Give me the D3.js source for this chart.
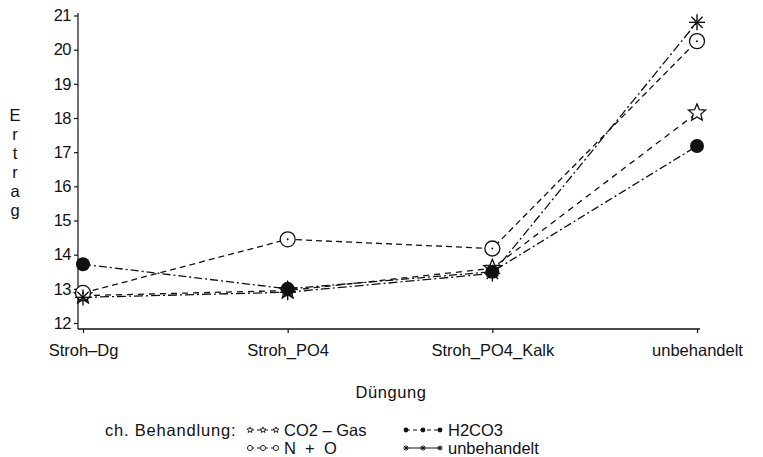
<!DOCTYPE html>
<html><head><meta charset="utf-8">
<script src="https://cdn.jsdelivr.net/npm/d3@7"></script>
<style>
html,body{margin:0;padding:0;background:#fff;}
svg{display:block;font-family:"Liberation Sans",Arial,Helvetica,sans-serif;}
</style></head>
<body>
<svg id="chart" width="763" height="457"></svg>
<script>
const categories = ["Stroh–Dg", "Stroh_PO4", "Stroh_PO4_Kalk", "unbehandelt"];
const yTicks = [12, 13, 14, 15, 16, 17, 18, 19, 20, 21];
const co2Gas = [12.80, 12.95, 13.60, 18.15];
const h2co3 = [13.72, 13.00, 13.50, 17.18];
const nPlusO = [12.88, 14.45, 14.18, 20.25];
const unbehandelt = [12.75, 12.90, 13.45, 20.80];
const seriesNames = ["CO2 – Gas", "H2CO3", "N  +  O", "unbehandelt"];

const series = [
  {name: seriesNames[0], values: co2Gas, marker: "star", dash: "6,5"},
  {name: seriesNames[1], values: h2co3, marker: "dot", dash: "8,3,2,3"},
  {name: seriesNames[2], values: nPlusO, marker: "circle", dash: "6,4"},
  {name: seriesNames[3], values: unbehandelt, marker: "asterisk", dash: "9,3,2,3"}
];

const svg = d3.select("#chart");
const x = d3.scalePoint().domain(categories).range([83, 697]);
const y = d3.scaleLinear().domain([12, 21]).range([323, 15.5]);
const ink = "#111";
const fs = 16.5;
const ff = "Liberation Sans, Arial, sans-serif";

// axes
const yAxis = svg.append("g").attr("transform", "translate(78,0)")
  .call(d3.axisLeft(y).tickValues(yTicks).tickSize(4).tickPadding(3).tickFormat(d3.format("d")));
yAxis.select(".domain").remove();
yAxis.append("line").attr("x1", 0).attr("x2", 0).attr("y1", 13).attr("y2", 329)
  .attr("stroke", ink).attr("stroke-width", 1.2);
yAxis.selectAll(".tick line").attr("stroke", ink).attr("stroke-width", 1.2);
yAxis.selectAll(".tick text").attr("font-size", fs).attr("fill", ink).attr("font-family", ff)
  .attr("letter-spacing", -0.5);

const xAxis = svg.append("g").attr("transform", "translate(0,329)")
  .call(d3.axisBottom(x).tickSize(4).tickPadding(11));
xAxis.select(".domain").remove();
xAxis.append("line").attr("x1", 78).attr("x2", 700).attr("y1", 0).attr("y2", 0)
  .attr("stroke", ink).attr("stroke-width", 1.3);
xAxis.selectAll(".tick line").attr("stroke", ink).attr("stroke-width", 1.2);
xAxis.selectAll(".tick text").attr("font-size", fs).attr("fill", ink).attr("font-family", ff);

// axis titles
svg.append("text").attr("x", 391).attr("y", 398).attr("text-anchor", "middle")
  .attr("font-size", fs).attr("fill", ink).attr("letter-spacing", 0.6).text("Düngung");
const yTitle = "Ertrag".split("");
svg.append("g").selectAll("text").data(yTitle).join("text")
  .attr("x", 15).attr("y", (d, i) => 121 + i * 19)
  .attr("text-anchor", "middle").attr("font-size", fs).attr("fill", ink).text(d => d);

// marker drawing
function starPath(r) {
  const pts = [];
  for (let i = 0; i < 10; i++) {
    const a = -Math.PI / 2 + i * Math.PI / 5;
    const rr = i % 2 === 0 ? r : r * 0.45;
    pts.push([rr * Math.cos(a), rr * Math.sin(a)]);
  }
  return "M" + pts.map(p => p.join(",")).join("L") + "Z";
}
function drawMarker(g, type, cx, cy, s) {
  const sw = s < 1 ? 0.9 : 1.3;
  if (type === "star") {
    g.append("path").attr("d", starPath(9 * s)).attr("transform", `translate(${cx},${cy})`)
      .attr("fill", "#fff").attr("stroke", ink).attr("stroke-width", sw);
  } else if (type === "dot") {
    g.append("circle").attr("cx", cx).attr("cy", cy).attr("r", 7 * s).attr("fill", ink);
  } else if (type === "circle") {
    g.append("circle").attr("cx", cx).attr("cy", cy).attr("r", 7.5 * s)
      .attr("fill", "#fff").attr("stroke", ink).attr("stroke-width", sw);
    g.append("circle").attr("cx", cx).attr("cy", cy).attr("r", 1 * s).attr("fill", ink);
  } else if (type === "asterisk") {
    const r = 8 * s;
    for (let i = 0; i < 4; i++) {
      const a = i * Math.PI / 4;
      g.append("line").attr("x1", cx - r * Math.cos(a)).attr("y1", cy - r * Math.sin(a))
        .attr("x2", cx + r * Math.cos(a)).attr("y2", cy + r * Math.sin(a))
        .attr("stroke", ink).attr("stroke-width", sw + 0.1);
    }
  }
}

const line = d3.line().x((d, i) => x(categories[i])).y(d => y(d));
const plot = svg.append("g");
series.forEach(s => {
  plot.append("path").attr("d", line(s.values)).attr("fill", "none")
    .attr("stroke", ink).attr("stroke-width", 1.3).attr("stroke-dasharray", s.dash);
});
series.forEach(s => {
  const g = plot.append("g");
  s.values.forEach((v, i) => drawMarker(g, s.marker, x(categories[i]), y(v), 1));
});

// legend
svg.append("text").attr("x", 105).attr("y", 436).attr("font-size", fs).attr("fill", ink)
  .attr("letter-spacing", 0.8).text("ch. Behandlung:");
const legendPos = [
  {x: 250, y: 430}, {x: 406, y: 430}, {x: 250, y: 448}, {x: 406, y: 448}
];
series.forEach((s, k) => {
  const p = legendPos[k];
  const g = svg.append("g");
  const w = k % 2 === 0 ? 26 : 34;
  g.append("line").attr("x1", p.x).attr("x2", p.x + w).attr("y1", p.y).attr("y2", p.y)
    .attr("stroke", ink).attr("stroke-width", 1.1).attr("stroke-dasharray", k === 3 ? null : "4,3");
  [0, 0.5, 1].forEach(f => drawMarker(g, s.marker, p.x + f * w, p.y, 0.34));
  g.append("text").attr("x", k % 2 === 0 ? 284 : p.x + w + 8).attr("y", p.y + 6).attr("font-size", fs)
    .attr("fill", ink).style("white-space", "pre").text(s.name);
});
</script>
</body></html>
